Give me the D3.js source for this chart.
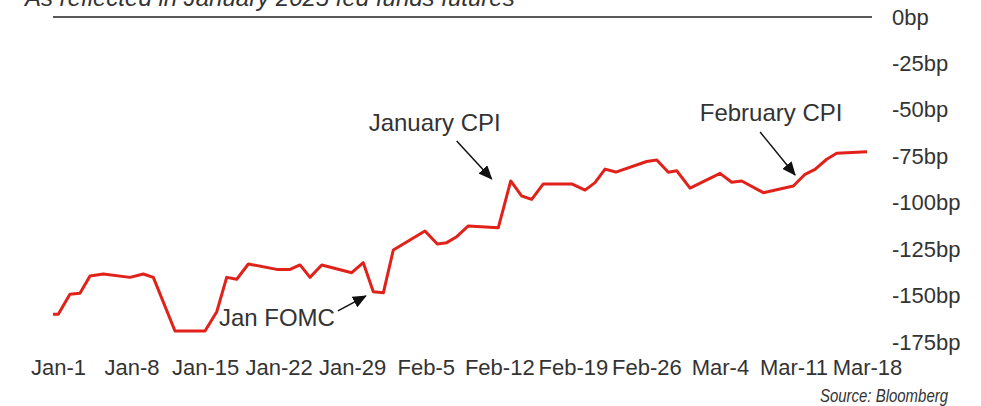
<!DOCTYPE html>
<html>
<head>
<meta charset="utf-8">
<script src="https://cdn.jsdelivr.net/npm/d3@7"></script>
<style>
  body { margin: 0; background: #fff; }
  svg { display: block; font-family: Arial, "Liberation Sans", sans-serif; }
</style>
</head>
<body>
<div id="chart"></div>
<script>
// Axis position in "days" along the date axis (Jan-1 = 0), and implied cuts in bp
var days = [0, 0.5, 1.6, 2.55, 3.5, 4.76, 7.28, 8.54, 9.49, 11.54, 14.38, 15.49, 16.43, 17.38,
  18.48, 21.16, 22.42, 23.37, 24.31, 25.42, 28.26, 29.35, 30.3, 31.25, 32.19, 35.19, 36.35,
  37.24, 38.19, 39.29, 42.12, 43.3, 44.34, 45.28, 46.38, 49.07, 50.33, 51.27, 52.22, 53.24,
  56.16, 57.11, 58.21, 59.0, 60.26, 63.1, 64.2, 65.15, 67.19, 70.03, 71.14, 72.08, 73.19,
  74.13, 77];
var bp = [-160, -160, -149.3, -148.8, -139.5, -138.4, -140.2, -138.4, -140.2, -169.1, -169.1,
  -158.7, -140.2, -141.2, -133, -135.9, -135.9, -133.5, -140.2, -133.5, -137.7, -132.3,
  -147.9, -148.5, -125.5, -115.2, -122.2, -121.5, -118.3, -112.5, -113.5, -88.3, -96.4,
  -98.2, -89.9, -89.9, -93.2, -89.2, -81.9, -83.5, -77.8, -77, -83.6, -82.8, -92.1, -84.2,
  -89, -88.3, -94.6, -91, -84.7, -82, -76.6, -73.4, -72.5];

var tickDays = [0, 7, 14, 21, 28, 35, 42, 49, 56, 63, 70, 77];
var tickLabels = ['Jan-1', 'Jan-8', 'Jan-15', 'Jan-22', 'Jan-29', 'Feb-5', 'Feb-12',
  'Feb-19', 'Feb-26', 'Mar-4', 'Mar-11', 'Mar-18'];
var yTicks = [0, -25, -50, -75, -100, -125, -150, -175];

// annotation text + the point the arrow points at
var notes = [
  { label: 'January CPI', day: 41.5, value: -87.2, tx: -57, ty: -48, sx: -35, sy: -38 },
  { label: 'February CPI', day: 70.2, value: -85.1, tx: -24, ty: -54, sx: -35, sy: -43 },
  { label: 'Jan FOMC', day: 29.6, value: -150.2, tx: -89, ty: 30, sx: -28, sy: 15 }
];

var width = 981, height = 406;

var x = d3.scaleLinear().domain([0, 77]).range([53, 867]);
var y = d3.scaleLinear().domain([-175, 0]).range([342, 17]);

var svg = d3.select('#chart').append('svg')
  .attr('width', width)
  .attr('height', height);

svg.append('defs').append('marker')
  .attr('id', 'arrow')
  .attr('markerUnits', 'userSpaceOnUse')
  .attr('viewBox', '0 0 14 12')
  .attr('refX', 13)
  .attr('refY', 6)
  .attr('markerWidth', 14)
  .attr('markerHeight', 12)
  .attr('orient', 'auto')
  .append('path')
  .attr('d', 'M0,0L14,6L0,12Z')
  .attr('fill', '#111');

// title, cut off at the top edge (as in the source image)
svg.append('text')
  .attr('x', 25)
  .attr('y', 6)
  .attr('font-size', 24)
  .attr('font-style', 'italic')
  .attr('fill', '#333')
  .text('As reflected in January 2025 fed funds futures');

// zero line
svg.append('line')
  .attr('x1', x(0))
  .attr('x2', x(77) + 5)
  .attr('y1', y(0))
  .attr('y2', y(0))
  .attr('stroke', '#222')
  .attr('stroke-width', 1.5);

// x axis
var xAxis = svg.append('g')
  .attr('transform', 'translate(0,' + 359 + ')')
  .call(d3.axisBottom(x)
    .tickValues(tickDays)
    .tickFormat(function(d, i) { return tickLabels[i]; })
    .tickSize(0)
    .tickPadding(0));
xAxis.select('.domain').remove();
xAxis.selectAll('text')
  .attr('font-size', 22)
  .attr('font-family', 'Arial, "Liberation Sans", sans-serif')
  .attr('dx', function(d) { return 5 * (1 - d / 77); })
  .attr('fill', '#333');

// y axis on the right
var yAxis = svg.append('g')
  .attr('transform', 'translate(892,0)')
  .call(d3.axisRight(y)
    .tickValues(yTicks)
    .tickFormat(function(d) { return d + 'bp'; })
    .tickSize(0)
    .tickPadding(0));
yAxis.select('.domain').remove();
yAxis.selectAll('text')
  .attr('font-size', 22)
  .attr('font-family', 'Arial, "Liberation Sans", sans-serif')
  .attr('text-anchor', 'start')
  .attr('fill', '#333');

// the series
var line = d3.line()
  .x(function(d, i) { return x(days[i]); })
  .y(function(d) { return y(d); });

svg.append('path')
  .datum(bp)
  .attr('d', line)
  .attr('fill', 'none')
  .attr('stroke', '#e0221b')
  .attr('stroke-width', 3)
  .attr('stroke-linejoin', 'round');

// annotations
notes.forEach(function(n) {
  var px = x(n.day), py = y(n.value);
  svg.append('line')
    .attr('x1', px + n.sx)
    .attr('y1', py + n.sy)
    .attr('x2', px)
    .attr('y2', py)
    .attr('stroke', '#111')
    .attr('stroke-width', 1.5)
    .attr('marker-end', 'url(#arrow)');
  svg.append('text')
    .attr('x', px + n.tx)
    .attr('y', py + n.ty)
    .attr('text-anchor', 'middle')
    .attr('font-size', 24)
    .attr('fill', '#333')
    .text(n.label);
});

// source
svg.append('text')
  .attr('x', 820)
  .attr('y', 402)
  .attr('font-size', 18)
  .attr('font-style', 'italic')
  .attr('fill', '#333')
  .attr('textLength', 128)
  .attr('lengthAdjust', 'spacingAndGlyphs')
  .text('Source: Bloomberg');
</script>
</body>
</html>
